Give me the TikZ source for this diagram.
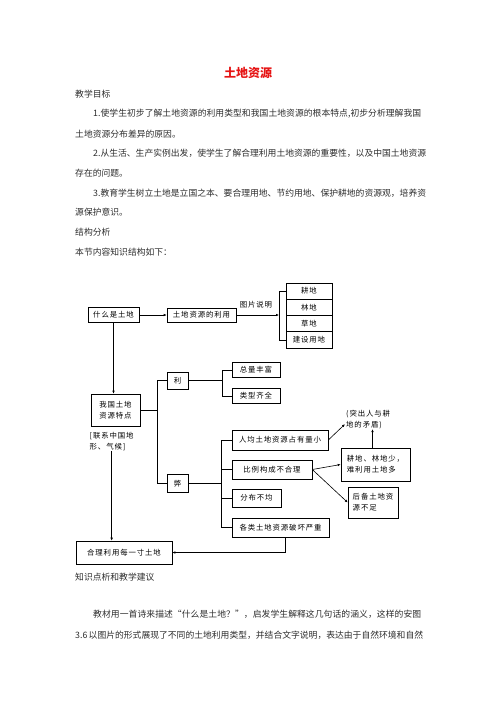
\documentclass[tikz,border=0pt]{standalone}
\usepackage{fontspec}
\setmainfont{Noto Sans CJK SC}
\newfontfamily\fcfont{Noto Sans CJK SC}[LetterSpace=12]
\usetikzlibrary{arrows.meta}
\XeTeXinterchartoks 0 0 = {\hskip 0pt plus 1fil}
\XeTeXinterchartoks 0 1 = {\hskip 0pt plus 1fil}
\XeTeXinterchartoks 0 2 = {\hskip 0pt plus 1fil}
\XeTeXinterchartoks 0 3 = {\hskip 0pt plus 1fil}
\XeTeXinterchartoks 1 0 = {\hskip 0pt plus 1fil}
\XeTeXinterchartoks 1 1 = {\hskip 0pt plus 1fil}
\XeTeXinterchartoks 1 2 = {\hskip 0pt plus 1fil}
\XeTeXinterchartoks 1 3 = {\hskip 0pt plus 1fil}
\XeTeXinterchartoks 2 0 = {\hskip 0pt plus 1fil}
\XeTeXinterchartoks 2 1 = {\hskip 0pt plus 1fil}
\XeTeXinterchartoks 2 2 = {\hskip 0pt plus 1fil}
\XeTeXinterchartoks 2 3 = {\hskip 0pt plus 1fil}
\XeTeXinterchartoks 3 0 = {\hskip 0pt plus 1fil}
\XeTeXinterchartoks 3 1 = {\hskip 0pt plus 1fil}
\XeTeXinterchartoks 3 2 = {\hskip 0pt plus 1fil}
\XeTeXinterchartoks 3 3 = {\hskip 0pt plus 1fil}
\newcommand\jst[2]{\hbox to #1{\XeTeXinterchartokenstate=1 #2\XeTeXinterchartokenstate=0 }}
\definecolor{bodytxt}{RGB}{45,45,45}
\definecolor{titlered}{RGB}{230,20,20}
\tikzset{
  body/.style={anchor=west, inner sep=0pt, text=bodytxt, font=\fontsize{8.8}{10}\selectfont},
  fbox/.style={draw, line width=0.6pt, inner sep=0pt, align=center, font=\fcfont\fontsize{7.4}{11}\selectfont},
  ftext/.style={inner sep=0pt, align=left, font=\fcfont\fontsize{7.4}{11}\selectfont},
  conn/.style={line width=0.6pt},
  arr/.style={line width=0.6pt, -{Latex[length=3pt,width=2.6pt]}}
}
\begin{document}
\begin{tikzpicture}[x=1pt,y=-1pt]
\useasboundingbox (0,0) rectangle (496,702);
\fill[white] (0,0) rectangle (496,702);

% title and text
\node[inner sep=0pt, text=titlered, font=\fontsize{12}{14}\selectfont\bfseries] (title) at (248,73) {土地资源};
\node[body] (t1) at (75,94) {教学目标};
\node[body] (t2) at (93,114) {\jst{328pt}{1.使学生初步了解土地资源的利用类型和我国土地资源的根本特点,初步分析理解我国}};
\node[body] (t3) at (75,134) {土地资源分布差异的原因。};
\node[body] (t4) at (93,153.5) {\jst{328pt}{2.从生活、生产实例出发，使学生了解合理利用土地资源的重要性，以及中国土地资源}};
\node[body] (t5) at (75,173) {存在的问题。};
\node[body] (t6) at (93,193) {\jst{328pt}{3.教育学生树立土地是立国之本、要合理用地、节约用地、保护耕地的资源观，培养资}};
\node[body] (t7) at (75,212.5) {源保护意识。};
\node[body] (t8) at (75,232) {结构分析};
\node[body] (t9) at (75,252) {本节内容知识结构如下：};

\node[body] (b1) at (75,577) {知识点析和教学建议};
\node[body] (b2) at (93,614) {\jst{328pt}{教材用一首诗来描述“什么是土地？”，启发学生解释这几句话的涵义，这样的安图}};
\node[body] (b3) at (75,635) {\jst{346pt}{3.6 以图片的形式展现了不同的土地利用类型，并结合文字说明，表达由于自然环境和自然}};

% flowchart nodes
\node[fbox, minimum width=51pt, minimum height=15pt] (what) at (113.5,315) {什么是土地};
\node[fbox, minimum width=69pt, minimum height=14pt] (use) at (201.5,315) {土地资源的利用};
\node[ftext] (pic) at (256,305) {图片说明};
\node[fbox, minimum width=46pt, minimum height=16.25pt] (s1) at (309,291.1) {耕地};
\node[fbox, minimum width=46pt, minimum height=16.25pt] (s2) at (309,307.4) {林地};
\node[fbox, minimum width=46pt, minimum height=16.25pt] (s3) at (309,323.6) {草地};
\node[fbox, minimum width=46pt, minimum height=16.25pt] (s4) at (309,339.9) {建设用地};
\coordinate (bx) at (279,315);

\node[fbox, minimum width=49pt, minimum height=32pt] (tz) at (115.5,410) {我国土地\\资源特点};
\node[ftext, anchor=north west] (note) at (89.5,432) {[联系中国地\\形、气候]};
\node[fbox, minimum width=96pt, minimum height=23pt] (heli) at (124,552.5) {合理利用每一寸土地};

\node[fbox, minimum width=21pt, minimum height=17pt] (li) at (177.5,380.5) {利};
\node[fbox, minimum width=21pt, minimum height=18pt] (bi) at (177.5,483.5) {弊};
\coordinate (j1) at (157,400);
\coordinate (k1) at (222,380);
\coordinate (k2) at (221,480);

\node[fbox, minimum width=48pt, minimum height=15pt] (zl) at (256,370) {总量丰富};
\node[fbox, minimum width=48pt, minimum height=15pt] (lx) at (256,396) {类型齐全};

\node[fbox, minimum width=96pt, minimum height=20pt] (rj) at (280,440) {人均土地资源占有量小};
\node[fbox, minimum width=80pt, minimum height=19pt] (bl) at (272,469.5) {比例构成不合理};
\node[fbox, minimum width=49pt, minimum height=18pt] (fb) at (256.5,498) {分布不均};
\node[fbox, minimum width=97pt, minimum height=19pt] (gl) at (280.5,527.5) {各类土地资源破坏严重};

\node[ftext, anchor=north west] (tc) at (346,410) {(突出人与耕\\地的矛盾)};
\node[fbox, minimum width=69pt, minimum height=33pt, align=left] (gd) at (375.5,464.5) {耕地、林地少，\\难利用土地多};
\node[fbox, minimum width=50pt, minimum height=31pt, align=left] (hb) at (373,502.5) {后备土地资\\源不足};

% connectors
\draw[arr] (what.east) -- (use.west);
\draw[arr] (use.east) -- (bx);
\draw[conn] (s1.west) -- (s1.west -| bx) -- (s4.west -| bx) -- (s4.west);
\draw[arr] (what.south) -- (what.south |- tz.north);
\draw[arr] (note.south) -- (note.south |- heli.north);

\draw[conn] (tz.east) -- (tz.east -| j1);
\draw[conn] (li.west) -- (li.west -| j1) -- (bi.west -| j1) -- (bi.west);
\draw[conn] (li.east) -- (li.east -| k1);
\draw[conn] (zl.west) -- (zl.west -| k1) -- (lx.west -| k1) -- (lx.west);
\draw[conn] (bi.east) -- (bi.east -| k2);
\draw[conn] (rj.west) -- (rj.west -| k2) -- (gl.west -| k2) -- (gl.west);
\draw[conn] (bl.west) -- (bl.west -| k2);
\draw[conn] (fb.west) -- (fb.west -| k2);

\draw[arr] (rj.east) -- ([xshift=-1pt,yshift=5pt]tc.south west);
\draw[arr] ([xshift=-3pt]gd.north) -- ([xshift=-3pt]gd.north |- tc.south);
\draw[arr] (bl.east) -- (gd.west);
\draw[arr] (bl.east) -- (hb.west);
\draw[arr] ([xshift=4.5pt]gl.south) |- (heli.east);
\end{tikzpicture}
\end{document}
